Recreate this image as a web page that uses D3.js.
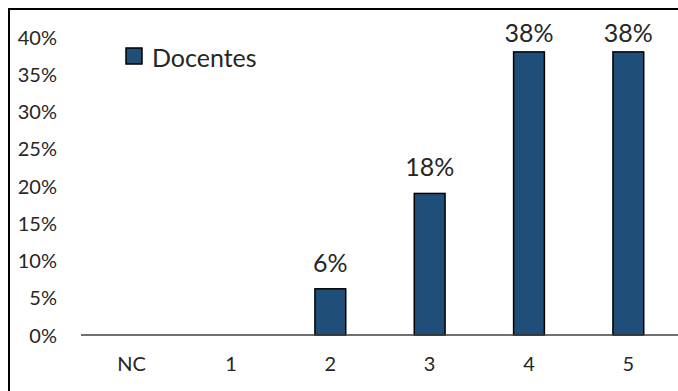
<!DOCTYPE html>
<html><head><meta charset="utf-8">
<script src="https://cdn.jsdelivr.net/npm/d3@7"></script>
<style>html,body{margin:0;padding:0;background:#fff;} svg{display:block;}</style>
</head><body>
<svg id="c" width="678" height="391"></svg>
<script>
const categories = ["NC", "1", "2", "3", "4", "5"];
const values = [0, 0, 0.062, 0.19, 0.38, 0.38];
const valueLabels = ["", "", "6%", "18%", "38%", "38%"];
const yTicks = [0, 0.05, 0.10, 0.15, 0.20, 0.25, 0.30, 0.35, 0.40];
const seriesName = "Docentes";

const svg = d3.select("#c");
const font = "Lato, 'Open Sans', sans-serif";
const W = 678, H = 391;
const m = {left: 82, right: 0, top: 37, bottom: 56};

svg.append("rect").attr("x", 9).attr("y", 9).attr("width", 720).attr("height", 420)
  .attr("fill", "#fff").attr("stroke", "#000").attr("stroke-width", 2);

const x = d3.scaleBand().domain(categories).range([m.left, W - m.right]).paddingInner(0.69).paddingOuter(0.345);
const y = d3.scaleLinear().domain([0, 0.4]).range([H - m.bottom, m.top]);

// y tick labels
const yAxis = d3.axisLeft(y).tickValues(yTicks).tickFormat(d3.format(".0%")).tickSize(0).tickPadding(0);
const gy = svg.append("g").attr("transform", `translate(57,0)`).call(yAxis);
gy.select(".domain").remove();
gy.selectAll("text").attr("font-family", font).attr("font-size", 20).attr("fill", "#262626").attr("dy", "0.35em");

// bars
svg.append("g").selectAll("rect").data(values).join("rect")
  .attr("x", (d, i) => x(categories[i]))
  .attr("y", d => y(d))
  .attr("width", x.bandwidth())
  .attr("height", d => y(0) - y(d))
  .attr("fill", "#1F4E79").attr("stroke", "#000").attr("stroke-width", 1.5)
  .style("display", d => d > 0 ? null : "none");

// baseline + x axis labels
const xAxis = d3.axisBottom(x).tickSize(0).tickPadding(22);
const gx = svg.append("g").attr("transform", `translate(0,${y(0)})`).call(xAxis);
gx.select(".domain").attr("stroke", "#404040").attr("stroke-width", 1.5).attr("d", `M${m.left - 1},0H${W}`);
gx.selectAll("text").attr("font-family", font).attr("font-size", 20).attr("fill", "#262626");

// data labels
svg.append("g").selectAll("text").data(values).join("text")
  .attr("x", (d, i) => x(categories[i]) + x.bandwidth() / 2)
  .attr("y", d => Math.max(y(d) - 17, y(0.4) + 5))
  .attr("text-anchor", "middle")
  .attr("font-family", font).attr("font-size", 25).attr("fill", "#262626")
  .text((d, i) => valueLabels[i]);

// legend
const lg = svg.append("g").attr("transform", "translate(126,48)");
lg.append("rect").attr("x", 0).attr("y", 0).attr("width", 16).attr("height", 16)
  .attr("fill", "#1F4E79").attr("stroke", "#000").attr("stroke-width", 1.5);
lg.append("text").attr("x", 26).attr("y", 19).attr("font-family", font).attr("font-size", 25)
  .attr("fill", "#262626").text(seriesName);
</script>
</body></html>
